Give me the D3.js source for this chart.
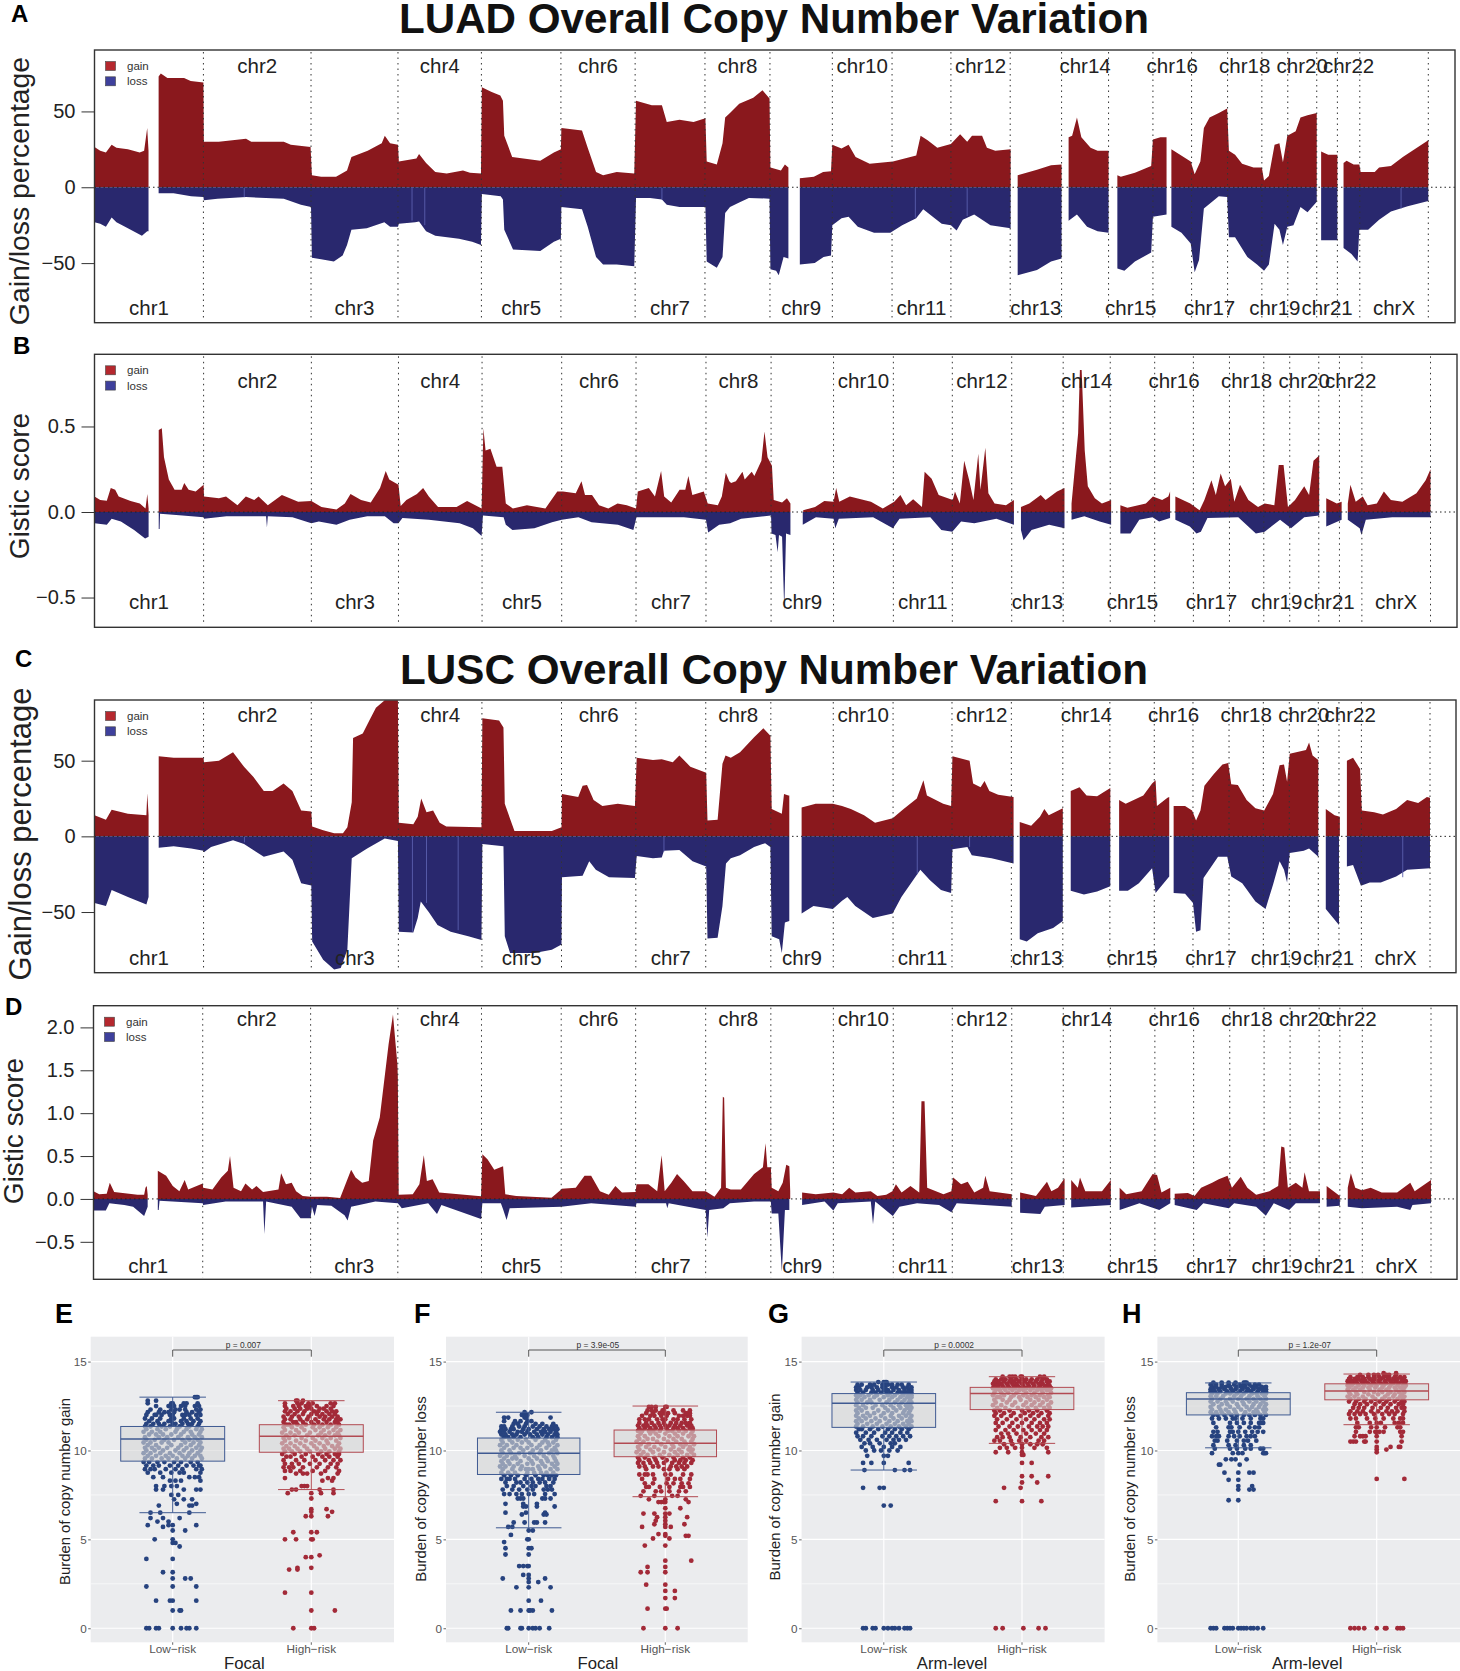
<!DOCTYPE html>
<html>
<head>
<meta charset="utf-8">
<script src="https://cdn.jsdelivr.net/npm/d3@7"></script>
<style>
body { margin: 0; background: #fff; }
text { font-family: "Liberation Sans", Arial, sans-serif; }
</style>
</head>
<body>
<svg id="drawing_region"></svg>
<script>
// chromosome names and where each one ends on the genome axis (Mb)
const chrNames = ['chr1','chr2','chr3','chr4','chr5','chr6','chr7','chr8','chr9','chr10','chr11','chr12','chr13','chr14','chr15','chr16','chr17','chr18','chr19','chr20','chr21','chr22','chrX'];
const chrEnds = [248,493,691,881,1062,1231,1390,1538,1680,1816,1950,2085,2202,2309,2410,2498,2580,2658,2717,2783,2830,2881,3037];

// values: [genome Mb, value], null = no data (centromere gap)
const luadGain = [[0,26.5],[13,24],[26,23],[39,28],[50,26],[76,25],[103,23],[113,24],[120,39],[123,24],null,
[146,73],[151,75],[166,72],[204,72],[219,70],[248,69],[249,30],[283,30],[345,32],[357,30],[431,30],[447,28],[492,26.5],
[495,8],[516,7],[550,7],[575,11],[585,20],[622,24],[654,29],[661,34],[673,29],[691,28],[693,17],[733,19],[739,22],[755,16],[776,10],[802,9],[839,11],[855,9.5],[880,9],
[882,66],[903,63],[924,60.5],[930,57],[933,34],[951,20],[1015,17.5],[1046,23],[1062,25],[1063,39],[1110,37.5],[1123,26],[1142,10],[1158,8],[1189,10],[1229,9],
[1233,57],[1269,54],[1292,54],[1303,43],[1332,44.5],[1364,43],[1391,45.5],[1394,17],[1417,15],[1430,29],[1436,46],[1447,49],[1468,55],[1500,59],[1521,64],[1537,58.5],
[1539,13],[1563,11],[1572,15],[1580,13],null,
[1606,6],[1638,7],[1659,10],[1677,10.5],[1680,28],[1701,25.5],[1717,28],[1733,20],[1765,15.5],[1818,17],[1871,21],[1881,34],[1897,31],[1919,26],[1950,28.5],[1971,35],[1987,30],[1998,34],[2021,34],[2032,26],[2051,24],[2086,25],null,
[2102,8],[2146,11.5],[2178,14.5],[2202,15],null,
[2218,33],[2226,34],[2237,46],[2247,33],[2268,26],[2284,24],[2309,24],null,
[2329,8],[2337,7],[2369,9.5],[2406,14],[2410,31.5],[2427,33],[2441,33],null,
[2452,25],[2496,17],[2505,8.5],[2518,17],[2526,39],[2539,46],[2560,49],[2579,52],[2583,24],[2597,21.5],[2613,15.5],[2639,13],[2658,13],
[2663,4.5],[2674,7.5],[2687,28],[2698,29],[2706,16.5],[2716,34],[2735,37],[2746,46],[2762,47.5],[2783,49],null,
[2793,23.5],[2809,21.5],[2830,21.5],null,
[2844,16],[2851,17.5],[2867,15],[2880,15],[2883,10],[2915,10],[2925,13],[2952,14],[2979,20],[3011,26],[3037,31]];

const luadLoss = [[0,-23],[13,-24],[26,-26],[39,-20],[50,-23],[76,-27],[108,-32],[120,-29],[123,-29],null,
[146,-4],[180,-4],[220,-6],[248,-6.5],[249,-8.5],[280,-7.5],[345,-6.5],[431,-7.5],[470,-11.5],[493,-13],
[495,-46.5],[516,-47.5],[545,-49],[565,-45],[575,-38],[585,-28],[620,-27],[660,-23],[673,-26],[691,-26],[693,-24],[730,-23],[739,-22.5],[755,-29],[776,-32],[830,-34],[860,-36],[880,-38],
[882,-4.5],[925,-6],[930,-8],[933,-28],[953,-41],[1015,-42],[1046,-36],[1062,-34],[1063,-13],[1110,-14.5],[1123,-26],[1142,-46],[1158,-51],[1189,-51],[1229,-52],
[1233,-7],[1265,-7],[1292,-8],[1303,-11.5],[1332,-13],[1391,-13],[1394,-49],[1417,-53],[1430,-46],[1436,-17],[1447,-13],[1468,-10],[1490,-7],[1537,-7.5],
[1539,-54],[1552,-55],[1558,-58],[1569,-46],[1580,-47],null,
[1606,-51],[1640,-50],[1660,-46],[1677,-45],[1680,-25],[1701,-20.5],[1717,-19.5],[1738,-26],[1775,-30],[1812,-30],[1839,-25],[1871,-20.5],[1887,-14.5],[1913,-20.5],[1929,-24],[1950,-25],[1963,-28.5],[1977,-21.5],[2003,-18],[2040,-25],[2086,-27],null,
[2102,-58],[2146,-54.5],[2178,-49],[2202,-47],null,
[2218,-22],[2237,-18],[2260,-26],[2284,-29],[2309,-30],null,
[2329,-53.5],[2345,-55],[2369,-49],[2406,-43],[2410,-19.5],[2441,-18],null,
[2452,-26],[2475,-30],[2496,-37],[2505,-56],[2515,-48],[2526,-14],[2560,-6],[2579,-6.5],[2583,-33],[2597,-33],[2625,-46],[2647,-51],[2663,-55],[2674,-51],[2687,-24],[2698,-28],[2706,-38],[2716,-26],[2730,-25],[2746,-13],[2762,-16.5],[2783,-9.5],null,
[2793,-35],[2830,-35],null,
[2844,-40],[2862,-44],[2876,-49],[2880,-28],[2900,-28],[2925,-21.5],[2952,-16],[2990,-12.5],[3037,-9]];

// thin pale breaks inside the loss areas: [genome Mb, depth]
const luadLossBreaks = [[341,-6.5],[723,-22],[752,-25],[1292,-8],[1869,-20],[1987,-19],[2975,-14]];
const luscLossBreaks = [[341,-4],[723,-63],[755,-44],[827,-62],[1295,-10],[1871,-25],[1990,-7],[2975,-27]];

const luadGisticGain = [[0,.09],[13,.07],[28,.066],[37,.14],[47,.13],[55,.09],[82,.065],[103,.05],[116,.02],[120,.105],[123,.02],null,
[146,.48],[153,.49],[158,.32],[169,.19],[182,.13],[198,.13],[204,.17],[214,.13],[230,.12],[248,.16],[249,.09],[283,.08],[299,.09],[325,.04],[344,.09],[363,.07],[373,.09],[394,.04],[426,.1],[463,.06],[493,.065],
[516,.03],[550,.015],[569,.05],[582,.105],[606,.07],[628,.055],[649,.14],[662,.24],[670,.19],[691,.16],[696,.035],[709,.07],[733,.105],[747,.14],[760,.09],[781,.03],[823,.03],[847,.065],[880,.02],
[884,.49],[889,.36],[900,.37],[914,.265],[927,.265],[935,.05],[951,.02],[983,.04],[1025,.02],[1052,.12],[1065,.12],[1094,.11],[1107,.18],[1115,.1],[1131,.1],[1147,.04],[1168,.02],[1189,.05],[1210,.04],[1231,.02],
[1235,.12],[1260,.14],[1274,.09],[1288,.24],[1295,.09],[1311,.055],[1330,.13],[1343,.13],[1350,.21],[1359,.1],[1385,.12],[1394,.05],[1417,.04],[1426,.09],[1435,.23],[1443,.18],[1447,.17],[1458,.18],[1473,.235],[1478,.19],[1494,.235],[1500,.21],[1516,.3],[1523,.47],[1530,.32],[1540,.27],
[1544,.07],[1563,.055],[1574,.08],[1582,.05],null,
[1611,.01],[1638,.03],[1659,.065],[1680,.06],[1686,.14],[1693,.06],[1717,.09],[1765,.06],[1792,.02],[1818,.06],[1832,.1],[1845,.04],[1861,.075],[1881,.03],[1887,.235],[1903,.195],[1919,.1],[1951,.07],[1956,.12],[1967,.05],[1977,.3],[1988,.19],[1998,.07],[2009,.34],[2014,.13],[2025,.375],[2032,.11],[2046,.05],[2072,.04],[2090,.07],null,
[2106,.03],[2125,.05],[2151,.1],[2162,.07],[2188,.12],[2205,.14],null,
[2221,.05],[2225,.16],[2236,.46],[2240,.83],[2244,.83],[2251,.36],[2258,.15],[2274,.08],[2290,.05],[2311,.07],null,
[2332,.04],[2348,.025],[2390,.05],[2406,.09],[2427,.07],[2441,.09],[2445,.12],null,
[2457,.09],[2491,.05],[2512,.01],[2523,.07],[2539,.185],[2549,.1],[2560,.225],[2570,.15],[2583,.195],[2591,.06],[2604,.16],[2623,.07],[2645,.03],[2660,.05],[2682,.04],[2692,.275],[2703,.275],[2713,.03],[2729,.07],[2750,.15],[2761,.1],[2771,.3],[2784,.33],null,
[2800,.08],[2824,.05],[2835,.06],null,
[2849,.05],[2855,.16],[2867,.06],[2883,.09],[2894,.04],[2915,.05],[2931,.12],[2947,.07],[2973,.06],[3005,.11],[3026,.185],[3037,.25]];

const luadGisticLoss = [[0,-.065],[28,-.075],[39,-.04],[60,-.055],[90,-.105],[115,-.155],[123,-.145],null,
[146,-.1],[148,-.1],[149,-.01],[200,-.02],[248,-.03],[249,-.04],[300,-.025],[390,-.025],[392,-.09],[394,-.025],[450,-.03],[493,-.065],
[510,-.055],[550,-.075],[580,-.045],[620,-.025],[660,-.025],[680,-.065],[691,-.065],[700,-.035],[760,-.045],[830,-.065],[860,-.095],[880,-.14],
[883,-.02],[930,-.03],[935,-.075],[950,-.105],[1000,-.095],[1040,-.06],[1062,-.045],[1100,-.03],[1130,-.06],[1190,-.075],[1225,-.105],[1232,-.03],[1290,-.03],[1340,-.03],[1390,-.045],[1395,-.12],[1420,-.075],[1445,-.065],[1470,-.04],[1538,-.02],
[1539,-.125],[1548,-.135],[1553,-.235],[1556,-.135],[1563,-.145],[1568,-.575],[1572,-.125],[1582,-.135],null,
[1610,-.075],[1640,-.03],[1680,-.04],[1684,-.095],[1692,-.04],[1770,-.03],[1815,-.095],[1830,-.04],[1900,-.03],[1925,-.105],[1950,-.115],[1970,-.055],[2000,-.065],[2050,-.04],[2090,-.075],null,
[2106,-.105],[2112,-.165],[2130,-.105],[2170,-.075],[2205,-.095],null,
[2221,-.045],[2250,-.025],[2285,-.055],[2311,-.075],null,
[2332,-.125],[2355,-.125],[2375,-.045],[2405,-.03],[2420,-.055],[2445,-.035],null,
[2457,-.045],[2490,-.085],[2505,-.125],[2515,-.115],[2530,-.035],[2600,-.03],[2640,-.125],[2660,-.115],[2695,-.045],[2720,-.095],[2750,-.03],[2784,-.02],null,
[2800,-.085],[2835,-.045],null,
[2849,-.045],[2876,-.095],[2880,-.135],[2890,-.045],[2950,-.03],[3037,-.03]];

const luscGain = [[0,14],[26,11],[39,17.5],[76,15],[118,14],[120,28.5],[123,14],null,
[146,53],[180,52],[220,52],[248,52],[249,49],[283,50],[315,55.5],[340,46],[362,39],[385,30],[405,30],[430,35],[450,30],[470,17],[493,16.5],
[495,6.5],[520,4],[545,2],[565,2],[575,6],[585,22.5],[588,65],[610,68],[625,76.5],[640,85],[660,90],[690,90],
[692,9],[725,8],[735,13],[743,25],[755,16],[770,17],[785,9],[800,6.5],[880,6],
[882,78],[920,76.5],[930,72],[933,21.5],[955,3.5],[1040,3.5],[1062,6],[1063,28],[1100,26],[1110,33.5],[1120,34],[1135,24],[1155,20],[1190,21.5],[1229,20],
[1233,52],[1270,50.5],[1290,51],[1315,49],[1330,53.5],[1355,46],[1391,42],[1394,10.5],[1417,11],[1428,48],[1435,53.5],[1447,52],[1468,55.5],[1500,65.5],[1521,71.5],[1537,66.5],
[1540,18],[1563,15],[1568,28],[1578,27],[1580,27],null,
[1608,19],[1640,21.5],[1679,21.5],[1700,20],[1720,18],[1750,14],[1775,9],[1815,12],[1840,18],[1870,25],[1885,37],[1893,27],[1930,21.5],[1948,20],[1951,53],[1990,50],[1998,35],[2015,32.5],[2024,36.5],[2035,30],[2055,27.5],[2090,26],null,
[2104,9.5],[2130,7],[2150,13],[2160,18],[2170,14],[2202,18.5],null,
[2220,30],[2240,32.5],[2256,27],[2280,26.5],[2310,32],null,
[2330,24],[2345,21.5],[2385,27],[2405,35],[2413,37],[2416,20],[2440,25.5],[2444,26],null,
[2454,20],[2480,20],[2496,17],[2505,10.5],[2515,17],[2524,33.5],[2545,41],[2565,47.5],[2578,48.5],[2585,34.5],[2600,34],[2620,24],[2640,18.5],[2660,17],[2680,28],[2695,47],[2705,47.5],[2712,36],[2718,54.5],[2755,57],[2762,62],[2770,53.5],[2783,50.5],null,
[2800,18],[2820,14],[2832,13],null,
[2848,50],[2862,52],[2878,44.5],[2882,17],[2910,16],[2930,14.5],[2960,18],[2985,24],[3010,22],[3030,26],[3037,25.5]];

const luscLoss = [[0,-44],[26,-46],[39,-35.5],[76,-40],[118,-45],[123,-40],null,
[146,-7.5],[180,-6.5],[220,-8],[248,-9.5],[249,-10.5],[265,-7],[315,-2.5],[340,-5],[385,-13.5],[430,-10],[450,-15.5],[470,-31],[493,-32.5],
[495,-69.5],[520,-81.5],[545,-88],[560,-87],[575,-75],[585,-14.5],[620,-8],[660,-1.5],[690,-3],
[692,-63],[725,-63.5],[735,-54],[742,-43],[760,-50],[780,-58.5],[810,-63],[850,-66],[880,-68.5],
[882,-5],[930,-6.5],[933,-66],[945,-77],[1000,-77],[1040,-75],[1062,-71.5],[1063,-27],[1110,-26],[1125,-16.5],[1140,-22],[1170,-27],[1229,-27.5],
[1233,-13],[1270,-14.5],[1290,-14],[1295,-9.5],[1330,-9],[1360,-16.5],[1391,-20],[1394,-67.5],[1417,-67],[1428,-46],[1436,-18],[1447,-14.5],[1468,-12.5],[1500,-7],[1525,-4.5],[1537,-7],
[1540,-66],[1557,-68],[1563,-77],[1570,-57],[1580,-56],null,
[1608,-51],[1635,-46],[1679,-48],[1700,-42.5],[1712,-40],[1730,-46],[1770,-54],[1815,-51],[1835,-40],[1865,-27.5],[1878,-22],[1900,-29],[1925,-35.5],[1948,-37.5],[1951,-8.5],[1985,-7],[1995,-12.5],[2040,-14.5],[2090,-18],null,
[2104,-68],[2120,-69.5],[2145,-64],[2180,-60.5],[2202,-56],null,
[2220,-36],[2250,-38.5],[2280,-36.5],[2310,-33],null,
[2330,-36],[2350,-36],[2375,-31],[2405,-21],[2413,-37.5],[2444,-26.5],null,
[2454,-37.5],[2480,-38],[2498,-44],[2505,-63],[2515,-62],[2522,-27.5],[2555,-13.5],[2576,-13.5],[2585,-26.5],[2610,-31],[2640,-43],[2663,-48],[2680,-32],[2695,-16.5],[2705,-22],[2712,-30.5],[2718,-11],[2750,-9.5],[2762,-8],[2783,-13.5],null,
[2800,-48],[2830,-58.5],null,
[2848,-20],[2862,-19],[2880,-32.7],[2900,-30.5],[2925,-30.5],[2960,-26.5],[2985,-22],[3037,-21]];

const luscGisticGain = [[0,.09],[13,.055],[30,.06],[37,.19],[47,.08],[100,.05],[115,.05],[118,.13],[121,.15],[123,.05],null,
[146,.33],[165,.27],[180,.15],[195,.09],[207,.22],[215,.11],[248,.18],[249,.13],[270,.11],[290,.25],[305,.33],[310,.5],[318,.13],[335,.09],[345,.18],[360,.11],[370,.15],[385,.08],[420,.11],[426,.3],[437,.17],[450,.19],[460,.09],[475,.035],[493,.025],
[530,.025],[560,.01],[585,.34],[595,.25],[610,.19],[625,.21],[635,.68],[650,.95],[670,1.8],[680,2.15],[690,1.57],[691,1.43],
[693,.05],[725,.055],[740,.17],[750,.51],[757,.21],[770,.23],[785,.075],[880,.03],
[883,.52],[895,.46],[910,.34],[930,.38],[935,.055],[960,.035],[1040,.015],[1062,.11],[1063,.12],[1095,.13],[1115,.27],[1130,.27],[1150,.09],[1170,.05],[1185,.15],[1200,.075],[1231,.08],
[1233,.17],[1260,.17],[1280,.09],[1290,.51],[1297,.09],[1312,.19],[1325,.29],[1340,.21],[1360,.09],[1390,.09],[1410,.025],[1425,.13],[1429,1.19],[1432,1.18],[1436,.13],[1447,.11],[1470,.11],[1500,.29],[1520,.37],[1526,.65],[1530,.37],[1538,.37],
[1540,.13],[1555,.09],[1565,.19],[1573,.4],[1580,.38],[1582,.09],null,
[1609,.075],[1640,.055],[1680,.075],[1700,.055],[1716,.13],[1730,.075],[1765,.09],[1780,.035],[1800,.05],[1814,.09],[1822,.17],[1835,.075],[1855,.15],[1875,.075],[1880,1.14],[1887,1.14],[1893,.13],[1930,.055],[1948,.09],[1952,.25],[1970,.17],[1985,.2],[2000,.075],[2020,.13],[2025,.27],[2035,.09],[2085,.055],null,
[2104,.075],[2140,.035],[2165,.2],[2175,.09],[2190,.13],[2205,.24],null,
[2220,.22],[2235,.13],[2240,.25],[2252,.09],[2290,.09],[2310,.22],null,
[2330,.13],[2345,.055],[2380,.09],[2405,.29],[2415,.28],[2425,.075],[2445,.13],null,
[2455,.06],[2485,.07],[2500,.035],[2515,.13],[2540,.19],[2555,.23],[2575,.27],[2585,.13],[2605,.26],[2620,.13],[2640,.05],[2670,.09],[2690,.15],[2697,.61],[2704,.6],[2712,.13],[2730,.19],[2745,.13],[2750,.31],[2760,.09],[2785,.09],null,
[2800,.15],[2830,.035],null,
[2848,.13],[2855,.3],[2865,.13],[2880,.1],[2900,.13],[2925,.075],[2960,.075],[2990,.19],[3000,.09],[3037,.22]];

const luscGisticLoss = [[0,-.135],[28,-.135],[36,-.05],[70,-.07],[90,-.09],[115,-.2],[123,-.09],null,
[146,-.13],[148,-.13],[150,-.02],[248,-.05],[249,-.07],[300,-.03],[385,-.03],[388,-.41],[392,-.03],[450,-.09],[470,-.225],[493,-.225],
[496,-.09],[502,-.2],[508,-.07],[540,-.08],[570,-.19],[577,-.25],[585,-.09],[640,-.03],[691,-.05],[700,-.11],[760,-.05],[780,-.175],[790,-.07],[880,-.235],
[883,-.05],[925,-.05],[930,-.12],[938,-.245],[945,-.11],[1062,-.09],[1130,-.05],[1231,-.09],[1233,-.05],[1300,-.05],[1303,-.11],[1306,-.05],[1390,-.13],[1394,-.45],[1398,-.13],[1430,-.11],[1445,-.05],[1500,-.03],[1538,-.03],
[1540,-.17],[1555,-.17],[1563,-.85],[1570,-.13],[1580,-.13],null,
[1609,-.07],[1660,-.03],[1680,-.135],[1690,-.05],[1765,-.03],[1770,-.295],[1775,-.03],[1815,-.2],[1830,-.09],[1870,-.05],[1920,-.07],[1948,-.155],[1960,-.05],[2085,-.09],null,
[2104,-.16],[2150,-.175],[2160,-.09],[2205,-.07],null,
[2220,-.1],[2310,-.07],null,
[2330,-.13],[2375,-.05],[2420,-.13],[2445,-.05],null,
[2455,-.07],[2505,-.13],[2520,-.05],[2578,-.11],[2590,-.05],[2640,-.09],[2662,-.195],[2680,-.05],[2715,-.13],[2730,-.05],[2785,-.05],null,
[2800,-.09],[2830,-.08],null,
[2848,-.09],[2880,-.11],[2960,-.09],[2990,-.13],[2995,-.07],[3037,-.05]];

const pGainTicks = [-50, 0, 50];
const gisticLuadTicks = [-0.5, 0, 0.5];
const gisticLuscTicks = [-0.5, 0, 0.5, 1, 1.5, 2];
const legendKeys = ['gain', 'loss'];

// box plot statistics: [lower whisker, q1, median, q3, upper whisker]
const boxFocalGain = [[6.5,9.4,10.65,11.35,13],[7.8,9.9,10.8,11.45,12.8]];
const boxFocalLoss = [[5.65,8.65,9.85,10.7,12.15],[7.4,9.65,10.4,11.15,12.5]];
const boxArmGain = [[8.9,11.3,12.65,13.2,13.85],[10.4,12.3,13.2,13.55,14.15]];
const boxArmLoss = [[10.15,12,12.9,13.25,13.8],[11.45,12.85,13.35,13.75,14.3]];
const riskGroups = ['Low\u2212risk', 'High\u2212risk'];
const burdenTicks = [0, 5, 10, 15];

// samples as [burden, [horizontal jitter in hundredths of a category step]]
const lowFocalGain = [[0,[-19,-17,-12,-10,0,6,10,12,17]],[1,[0,5,6]],[1.55,[-12,-2,0,17]],[2.35,[-19,0,17]],[2.8,[0,9,13]],[3.15,[-7,0]],[3.9,[-19,0]],[4.6,[5]],[4.8,[0,2]],[5,[-13,0]],[5.5,[0,9]],[5.7,[-7]],[5.8,[-18,-3,0,17]],[6,[-11,-3]],[6.2,[-16,-7,5]],[6.5,[-16,-9,12]],[6.9,[-10,12,14]],[7,[3,17]],[7.25,[1,8,14]],[7.5,[-1,4]],[7.8,[-12,-7,8,17,20]],[8,[-12,-6,-1,3]],[8.3,[-2,2,6,20]],[8.5,[-14,-7,12,16,19]],[8.75,[-18,-9,-1,5,8,20]],[8.95,[-20,-16,-13,-5,2,7,17,21]],
[9.15,[-19,-14,-10,-2,4,10,15,19,20]],[9.35,[-21,-17,-11,-6,1,6,13,18]],[9.55,[-20,-15,-8,-3,3,9,14,21]],[9.7,[-18,-12,-5,0,7,11,16,20]],[9.85,[-21,-16,-9,-2,5,12,18]],[10,[-19,-13,-7,2,8,14,20]],[10.15,[-20,-15,-10,-4,4,10,17,21]],[10.3,[-18,-12,-1,6,13,19]],[10.45,[-21,-16,-8,-3,9,15,20]],[10.6,[-19,-13,-6,1,7,12,18]],[10.75,[-20,-10,-4,4,11,16,21]],[10.9,[-17,-12,-7,-1,6,14,19]],[11.05,[-21,-15,-9,2,8,13,20]],[11.2,[-19,-11,-5,3,10,17,21]],[11.35,[-20,-16,-8,-2,5,12,18]],[11.5,[-19,-14,-10,-6,0,2,7,11,14,19]],[11.65,[-17,-11,-3,-1,6,10,15,20]],[11.8,[-20,-15,-9,-1,1,8,13,18]],[12,[-19,-13,-12,-8,-2,0,7,9,12,17,20]],[12.15,[-18,-10,-6,-3,1,10,14,19]],[12.3,[-16,-9,-1,2,5,9,17,20]],[12.5,[-12,-3,-1,1,6,9,16,19]],[12.65,[-18,-1,0,8,10,18]],[12.8,[-18,-12]],[13,[16,17,18]]];

const highFocalGain = [[0,[-13,0,2]],[1,[0,17]],[2,[-19,0]],[3.3,[-16,-10]],[3.4,[-10,0]],[4,[-4,0]],[4.1,[6]],[5,[-19,-11,0,1]],[5.4,[-13,0,4]],[6.3,[-4,0,12]],[6.55,[0,15]],[6.7,[0,11]],[7.3,[0]],[7.6,[-17,0,7,16]],[7.8,[-14,-11,6,16]],[8,[-7,-5,-3]],[8.3,[8,15]],[8.45,[-19,16,12]],[8.7,[-11,-6,-3,7,19]],[8.85,[-19,-15,-8,1,10,20]],[9.05,[-20,-16,-13,-6,4,12,18]],[9.25,[-19,-14,-9,-1,6,14,19]],[9.45,[-20,-11,-5,3,10,16,21]],[9.65,[-18,-15,-7,1,8,13,19]],[9.8,[-21,-12,-4,5,11,17,20]],
[9.95,[-19,-14,-8,-1,7,13,20]],[10.1,[-20,-16,-10,-3,4,10,17,21]],[10.25,[-18,-12,-5,2,9,15,19]],[10.4,[-21,-15,-8,0,6,12,20]],[10.55,[-19,-11,-4,3,11,18]],[10.7,[-20,-16,-7,1,8,14,21]],[10.85,[-18,-12,-3,5,10,17,20]],[11,[-21,-15,-9,-1,7,13,19]],[11.15,[-19,-11,-5,3,9,16,21]],[11.3,[-20,-14,-7,1,6,12,18]],[11.45,[-18,-16,-10,-4,2,8,14,20]],[11.6,[-20,-13,-11,-6,0,5,11,17,19]],[11.75,[-19,-15,-8,-3,3,9,13,18,21]],[11.9,[-20,-14,-9,-2,6,10,15,19]],[12.05,[-17,-12,-6,0,4,8,13,17]],[12.2,[-19,-15,-10,-5,2,5,11,15,18]],[12.35,[-18,-12,-8,-3,0,6,9,14]],[12.5,[-19,-13,-9,-4,-1,4,11,16]],[12.65,[-19,-10,-7,-2,1,14,17]],[12.8,[-11,-10,-6]]];

const lowFocalLoss = [[0,[-16,-15,-6,-5,0,3,5,8,15]],[1,[-13,-6,0,1,3,17]],[1.55,[0,9]],[2.3,[-9,0,16]],[2.6,[0,7]],[2.8,[-19,0,12]],[3,[-4,0]],[3.5,[-7,-4,-1,0]],[4.15,[-17,0]],[4.5,[-17,0,2]],[4.85,[-18]],[5,[-1,0]],[5.25,[-13]],[5.5,[0,3]],[5.7,[-15,-12]],[5.95,[-11,-3,4,6,12]],[6.4,[-5,11,13]],[6.5,[-17,-2,12]],[6.85,[-4,-2,6,19]],[7,[-17,-4,6]],[7.3,[-8,-6,-4,10,12,16]],[7.55,[-18,-14,-9,-5,0,4,12,19]],[7.8,[-19,-12,-7,-1,3,11,14,17]],[8,[-16,-11,-4,2,5,13,16]],[8.2,[-17,-9,-6,-1,3,8,12,18]],[8.4,[-20,-16,-14,-10,-3,2,7,10,15,19]],[8.6,[-18,-13,-8,-2,5,11,14,17,20]],
[8.75,[-20,-15,-10,-1,4,9,13,18]],[8.95,[-19,-12,-6,-2,0,3,8,16,21]],[9.1,[-21,-17,-11,-5,7,12,19]],[9.25,[-19,-14,-8,-1,3,10,17,21]],[9.4,[-20,-15,-6,2,9,14,20]],[9.55,[-18,-12,-9,0,6,13,19]],[9.7,[-21,-16,-10,-3,4,11,18]],[9.85,[-19,-13,-7,1,8,15,21]],[10,[-20,-14,-4,3,9,17,20]],[10.15,[-18,-11,-6,-1,6,13,19]],[10.3,[-21,-16,-9,2,8,15,21]],[10.45,[-19,-12,-5,0,10,14,18]],[10.6,[-20,-14,-8,-2,5,12,20]],[10.75,[-18,-15,-11,-6,3,7,13,17,21]],[10.9,[-20,-17,-12,-9,-3,1,6,10,14,19,21]],[11.05,[-21,-18,-14,-8,-5,-1,4,9,12,16,20]],[11.2,[-20,-17,-13,-11,-4,0,6,11,15,18,21]],[11.35,[-20,-18,-12,-7,-3,3,8,13,17,20]],[11.5,[-11,-8,-2,5,10,18]],[11.65,[-18,-10,-6,-1,2]],[11.85,[-18,-15,-3,-2,16]],[12,[-5,-3,-1]],[12.15,[-3,2]]];

const highFocalLoss = [[0,[-16,0,9]],[1.1,[-13,0,1]],[1.7,[0,7]],[2.1,[0,7]],[2.45,[-14,0]],[3.15,[-18,-13,0]],[3.45,[-13,0]],[3.8,[0,19]],[4.65,[-15,0]],[5.05,[-9,3]],[5.2,[0,15,17]],[5.3,[-5,0]],[5.7,[-17,0,4]],[5.85,[-8,0,14]],[6.05,[-7,0]],[6.25,[-6,0,16]],[6.45,[-16,-8,0,3]],[6.75,[0,11]],[7.1,[-5,-3,-1,0,17]],[7.25,[-12,0,15]],[7.45,[-18,-8,5,9]],[7.7,[-16,-7,-3,3,10,15]],[7.95,[-14,-12,-4,3,11,13,18]],[8.15,[-15,-9,1,6,12,17]],[8.4,[-17,-8,2,7,11,18]],[8.65,[-19,-15,-13,-9,0,4,13,19]],[8.95,[-14,-1,3,9,14]],
[9.1,[-19,-15,-9,-5,4,8,12,16]],[9.3,[-20,-16,-11,-6,-1,5,10,14,19]],[9.45,[-19,-12,-7,1,7,11,15,20]],[9.6,[-20,-15,-8,-2,6,13,18]],[9.75,[-18,-13,-4,3,9,16,21]],[9.9,[-21,-16,-9,-1,7,12,19]],[10.05,[-19,-11,-5,4,10,17,20]],[10.2,[-20,-14,-8,0,6,13,18]],[10.35,[-18,-12,-3,5,11,15,21]],[10.5,[-21,-16,-6,2,8,14,19]],[10.65,[-19,-13,-9,-1,6,12,20]],[10.8,[-20,-15,-5,3,9,17,21]],[10.95,[-18,-11,-7,0,7,13,19]],[11.1,[-20,-17,-12,-9,-4,2,5,10,15,20]],[11.25,[-19,-15,-11,-7,-3,1,6,9,13,18,20]],[11.4,[-20,-16,-13,-8,-4,0,3,7,11,16,19]],[11.55,[-19,-14,-10,-5,-1,4,8,12,15,18]],[11.75,[-19,-15,-12,-6,-2,0,6,9,14,19]],[11.95,[-17,-11,-8,-3,1,10,13,16,18]],[12.1,[-14,-9,-4,-1,2,7,15,17,18]],[12.25,[-13,-10,-7,-2,-1,6,13,18]],[12.45,[-12,-10,-7,1,0]]];

const lowArmGain = [[0,[-15,-13,-8,-6,0,3,6,8,11,15,17,19]],[6.9,[0,5]],[7.9,[-15,-3,0]],[8.9,[-14,8,15,19]],[9.3,[-15,-9,0,18]],[9.7,[-12,0,3]],[10,[-13,-7,-2,4,10]],[10.2,[-16,-8,0,6,12]],[10.4,[-14,-10,-3,5,8]],[10.6,[-17,-11,-5,2,7,11,16]],[10.8,[-19,-15,-9,-1,4,9,14,19]],[11,[-20,-13,-7,1,6,12,17]],[11.2,[-18,-16,-10,-4,3,8,13,18]],
[11.35,[-20,-15,-8,-1,5,11,16,20]],[11.5,[-19,-12,-5,2,8,14,18]],[11.65,[-20,-16,-9,-3,4,10,17,20]],[11.8,[-18,-13,-6,1,7,13,19]],[11.95,[-20,-15,-10,-2,5,11,16,20]],[12.1,[-19,-12,-7,0,6,14,18]],[12.25,[-20,-16,-4,3,9,15,19]],[12.4,[-18,-13,-8,1,7,12,17,20]],[12.55,[-20,-15,-6,-1,5,11,16,19]],[12.7,[-19,-12,-9,2,8,13,18,20]],[12.85,[-20,-16,-10,-3,4,10,15,19]],[13,[-19,-14,-7,0,6,12,17,20]],[13.1,[-20,-17,-11,-5,3,8,14,18,20]],[13.25,[-19,-15,-9,-6,-2,2,5,10,13,16,19,20]],[13.4,[-20,-17,-13,-8,-4,0,3,7,11,15,18,20]],[13.55,[-20,-18,-12,-9,-5,-1,1,6,9,14,17,20]],[13.7,[-19,-16,-10,-7,-1,1,3,6,10,13,18]],[13.85,[-4,0,1,2]]];

const highArmGain = [[0,[-19,-14,1,12,17]],[7.15,[-19,0,14]],[7.9,[-13,-1]],[8.2,[0,11]],[8.55,[0,7,19]],[9.3,[0,7]],[9.75,[0,1]],[9.9,[-19,-10,0,19]],[10.15,[-16,-11,-5,0,9,18]],[10.35,[-13,-7,0,6,11,15]],[10.55,[-20,-16,-8,-2,3,12,16]],[10.75,[-18,-14,-9,-1,6,14,19]],[10.95,[-15,-10,-4,3,10,16]],[11.15,[-19,-12,-6,1,7,13,18]],[11.35,[-17,-9,-3,5,11,15,19]],[11.55,[-19,-14,-7,0,7,13,18]],[11.75,[-18,-11,-4,3,9,16,20]],[11.95,[-20,-15,-8,-1,6,12,19]],
[12.1,[-19,-13,-6,2,8,14,20]],[12.25,[-20,-16,-9,0,5,11,18]],[12.4,[-18,-12,-3,4,10,16,20]],[12.55,[-21,-15,-7,1,7,13,19]],[12.7,[-19,-11,-5,3,9,15,21]],[12.85,[-20,-14,-9,-1,6,12,18]],[13,[-18,-16,-8,-2,4,10,16,20]],[13.1,[-21,-13,-6,1,7,13,19]],[13.25,[-20,-15,-10,-4,3,9,15,21]],[13.4,[-19,-16,-12,-7,-2,1,6,11,14,18,20]],[13.5,[-21,-18,-13,-9,-5,-1,3,8,12,16,19,21]],[13.62,[-20,-17,-14,-10,-6,-3,1,5,9,13,17,20]],[13.75,[-21,-18,-15,-11,-7,-4,0,4,8,12,15,19]],[13.88,[-20,-17,-13,-9,-6,-2,2,6,10,14,18,20]],[14,[-19,-15,-12,-8,-4,0,3,7,11,15,18]],[14.15,[-14,-9,-7,-5,-1,0,13,16]]];

const lowArmLoss = [[0,[-20,-18,-16,-10,-8,-6,-4,0,2,4,6,9,11,14,18]],[7.2,[-7,0]],[7.8,[0,8,11]],[8,[0,10]],[8.35,[-7,0]],[8.75,[-10,0,8,11]],[9.2,[-14,1,-13]],[9.5,[-9,-5,-2,6]],[9.85,[-19,-4,0,3,18,20,19]],[10.1,[-17,-6,-1,5,9,16,18]],[10.3,[-18,-7,-2,4,9]],[10.55,[-17,-15,-8,-1,4,7,13]],[10.8,[-19,-16,-14,-7,-3,1,6,9,12]],[11.05,[-18,-15,-6,-4,0,5,10,14,18]],[11.3,[-16,-7,-5,1,8,12,15]],[11.55,[-18,-6,-1,4,9,15,17,18]],[11.8,[-19,-14,-9,-4,-2,3,9,16,18]],
[12,[-18,-15,-10,-5,-1,4,8,12,16,20]],[12.15,[-20,-16,-12,-7,-2,5,11,14,19]],[12.3,[-19,-13,-9,-3,2,8,13,18,20]],[12.45,[-20,-14,-6,0,6,10,15,19]],[12.6,[-18,-12,-8,-1,4,11,16,20]],[12.75,[-20,-15,-9,-4,3,8,13,18]],[12.9,[-19,-13,-6,0,6,11,16,20]],[13.05,[-20,-16,-11,-3,2,8,14,19]],[13.2,[-19,-15,-9,-6,-1,4,10,13,17,20]],[13.32,[-20,-17,-13,-8,-4,1,6,9,14,18,20]],[13.45,[-20,-18,-14,-10,-5,-2,3,7,11,15,18,20]],[13.58,[-19,-16,-12,-9,-6,-1,2,5,10,13,17,20]],[13.7,[-20,-16,-12,-7,-3,1,4,8,12,15]],[13.82,[-18,-12,-7,-2,4,5,6]]];

const highArmLoss = [[0,[-19,-16,-13,-9,0,6,7,15,17,19]],[8.4,[0,20]],[9.9,[0]],[10.05,[0,7]],[10.2,[0,10,16,17]],[10.5,[-19,-17,-15,-9,-8,0,18]],[10.8,[-16,-12,-10,-8,0,18]],[11.05,[-15,-5,-1,0,2,5,17,19]],[11.3,[-15,-13,-4,0,6,15,17]],[11.55,[-14,-5,0,3,13,16,19]],[11.8,[-19,-15,-7,-1,5,12,17,19]],[12.05,[-20,-16,-12,-8,-2,4,9,13,19]],[12.2,[-19,-14,-10,-4,1,7,11,15,20]],[12.4,[-17,-13,-9,-3,3,8,14,18,20]],[12.6,[-16,-12,-7,-1,5,10,16,19]],
[12.75,[-20,-15,-9,-4,2,7,13,18,20]],[12.9,[-19,-13,-8,-1,4,9,15,19]],[13.03,[-21,-16,-10,-3,6,12,17,20]],[13.16,[-19,-14,-6,1,8,13,18]],[13.29,[-20,-15,-9,-2,4,10,16,20]],[13.42,[-21,-17,-12,-5,2,7,14,19]],[13.54,[-20,-15,-10,-6,-1,4,9,13,17,20]],[13.66,[-21,-18,-13,-9,-4,0,5,10,15,19,21]],[13.78,[-20,-17,-14,-10,-6,-2,3,7,12,16,20]],[13.9,[-21,-18,-15,-11,-8,-3,1,6,10,14,18,21]],[14.02,[-20,-16,-13,-9,-5,-1,3,8,12,15,19]],[14.12,[-19,-14,-10,-6,-2,2,5,9,13,17,20]],[14.25,[-12,-6,-2,1,7,9,14]],[14.35,[5,14]]];

const svg = d3.select('#drawing_region').attr('width', 1460).attr('height', 1671);

// one genome panel: mirrored gain/loss areas, chromosome guides, legend
function genomePanel(p) {
    const x = d3.scaleLinear().domain([0, chrEnds[chrEnds.length - 1]]).range([p.left, p.xEnd]);
    const y = d3.scaleLinear().domain(p.yDomain).range([p.bottom, p.top]);
    const g = svg.append('g');

    const clipId = 'clip' + p.top;
    svg.append('clipPath').attr('id', clipId).append('rect')
        .attr('x', p.left).attr('y', p.top).attr('width', p.right - p.left).attr('height', p.bottom - p.top);

    const area = d3.area().defined(d => d !== null).x(d => x(d[0])).y0(y(0)).y1(d => y(d[1]));
    g.append('path').datum(p.gain).attr('d', area).attr('fill', '#8a181d').attr('clip-path', `url(#${clipId})`);
    g.append('path').datum(p.loss).attr('d', area).attr('fill', '#29286e').attr('clip-path', `url(#${clipId})`);

    g.selectAll('line.break').data(p.breaks || []).join('line')
        .attr('class', 'break')
        .attr('x1', d => x(d[0])).attr('x2', d => x(d[0]))
        .attr('y1', y(0)).attr('y2', d => y(d[1]))
        .attr('stroke', '#5a5fae').attr('stroke-width', 0.9);

    g.selectAll('line.chr').data(chrEnds).join('line')
        .attr('class', 'chr')
        .attr('x1', d => x(d)).attr('x2', d => x(d))
        .attr('y1', p.top + 2).attr('y2', p.bottom - 2)
        .attr('stroke', '#333').attr('stroke-width', 1).attr('stroke-dasharray', '1.5 4');
    g.append('line')
        .attr('x1', p.left).attr('x2', p.right).attr('y1', y(0)).attr('y2', y(0))
        .attr('stroke', '#222').attr('stroke-width', 1).attr('stroke-dasharray', '1.5 3');

    g.append('rect')
        .attr('x', p.left).attr('y', p.top).attr('width', p.right - p.left).attr('height', p.bottom - p.top)
        .attr('fill', 'none').attr('stroke', '#333').attr('stroke-width', 1.4);

    const axis = d3.axisLeft(y).tickValues(p.ticks).tickSize(13).tickPadding(6).tickFormat(d3.format(p.tickFormat));
    const axisGroup = g.append('g').attr('transform', `translate(${p.left},0)`).call(axis);
    axisGroup.select('.domain').remove();
    axisGroup.selectAll('line').attr('stroke', '#333');
    axisGroup.selectAll('text').attr('font-size', 20).attr('fill', '#222').style('font-family', '"Liberation Sans"');

    g.selectAll('text.chrlab').data(chrNames).join('text')
        .attr('class', 'chrlab')
        .attr('x', (d, i) => x(((i ? chrEnds[i - 1] : 0) + chrEnds[i]) / 2))
        .attr('y', (d, i) => i % 2 ? p.top + p.labelTop : p.bottom - p.labelBottom)
        .attr('text-anchor', 'middle').attr('font-size', 20.5).attr('fill', '#222')
        .text(d => d);

    legendKeys.forEach((k, i) => {
        const ly = p.top + 16 + i * 15.3;
        g.append('rect').attr('x', p.left + 11).attr('y', ly - 4.5).attr('width', 10).attr('height', 9)
            .attr('fill', i ? '#3e409c' : '#b5282e').attr('stroke', '#444').attr('stroke-width', 0.6);
        g.append('text').attr('x', p.left + 32.5).attr('y', ly + 4).attr('font-size', 11.5).attr('fill', '#333').text(k);
    });

    g.append('text')
        .attr('transform', `translate(${p.titleX},${(p.titleY)}) rotate(-90)`)
        .attr('text-anchor', 'middle').attr('font-size', p.titleSize).attr('fill', '#222')
        .text(p.yTitle);
}

// one jittered box plot panel
function boxPanel(p) {
    const x = d3.scaleLinear().domain([1, 2]).range(p.cats);
    const y = d3.scaleLinear().domain([-0.79, 16.4]).range([1642.3, 1336.7]);
    const g = svg.append('g');

    g.append('rect').attr('x', p.left).attr('y', y(16.4)).attr('width', p.width).attr('height', y(-0.79) - y(16.4)).attr('fill', '#ebecee');
    g.selectAll('line.minor').data([2.5, 7.5, 12.5]).join('line').attr('class', 'minor')
        .attr('x1', p.left).attr('x2', p.left + p.width).attr('y1', d => y(d)).attr('y2', d => y(d))
        .attr('stroke', '#fff').attr('stroke-width', 0.6);
    g.selectAll('line.major').data(burdenTicks).join('line').attr('class', 'major')
        .attr('x1', p.left).attr('x2', p.left + p.width).attr('y1', d => y(d)).attr('y2', d => y(d))
        .attr('stroke', '#fff').attr('stroke-width', 1.2);
    g.selectAll('line.vert').data([1, 2]).join('line').attr('class', 'vert')
        .attr('x1', d => x(d)).attr('x2', d => x(d)).attr('y1', y(16.4)).attr('y2', y(-0.79))
        .attr('stroke', '#fff').attr('stroke-width', 1.2);

    const colours = ['#27437f', '#a32a38'];
    const boxEdges = ['#3f5a92', '#b24a52'];
    [p.low, p.high].forEach((rows, i) => {
        const cat = i + 1;
        const samples = rows.flatMap(r => r[1].map(j => [cat + j / 100, r[0]]));
        g.append('g').selectAll('circle').data(samples).join('circle')
            .attr('cx', d => x(d[0])).attr('cy', d => y(d[1])).attr('r', 2.4).attr('fill', colours[i]);

        const [lo, q1, med, q3, hi] = p.box[i];
        const edge = boxEdges[i];
        const seg = (x1, x2, y1, y2, w) => g.append('line')
            .attr('x1', x(x1)).attr('x2', x(x2)).attr('y1', y(y1)).attr('y2', y(y2))
            .attr('stroke', edge).attr('stroke-width', w);
        seg(cat, cat, lo, q1, 1);
        seg(cat, cat, q3, hi, 1);
        seg(cat - 0.24, cat + 0.24, lo, lo, 1);
        seg(cat - 0.24, cat + 0.24, hi, hi, 1);
        g.append('rect')
            .attr('x', x(cat - 0.375)).attr('width', x(cat + 0.375) - x(cat - 0.375))
            .attr('y', y(q3)).attr('height', y(q1) - y(q3))
            .attr('fill', '#d6d6d6').attr('fill-opacity', 0.62).attr('stroke', edge).attr('stroke-width', 1);
        seg(cat - 0.375, cat + 0.375, med, med, 1.5);
    });

    const axis = d3.axisLeft(y).tickValues(burdenTicks).tickSize(2.5).tickPadding(1.5);
    const axisGroup = g.append('g').attr('transform', `translate(${p.left},0)`).call(axis);
    axisGroup.select('.domain').remove();
    axisGroup.selectAll('line').attr('stroke', '#666');
    axisGroup.selectAll('text').attr('font-size', 11.7).attr('fill', '#555').style('font-family', '"Liberation Sans"');

    g.selectAll('text.cat').data(riskGroups).join('text').attr('class', 'cat')
        .attr('x', (d, i) => x(i + 1)).attr('y', 1653)
        .attr('text-anchor', 'middle').attr('font-size', 11.8).attr('fill', '#555')
        .text(d => d);
    g.selectAll('line.xt').data([1, 2]).join('line').attr('class', 'xt')
        .attr('x1', d => x(d)).attr('x2', d => x(d)).attr('y1', y(-0.79)).attr('y2', y(-0.79) + 2.5).attr('stroke', '#666');

    g.append('text').attr('x', p.left + p.width / 2 + p.xTitleShift).attr('y', 1669)
        .attr('text-anchor', 'middle').attr('font-size', 16.7).attr('fill', '#222').text(p.xTitle);
    g.append('text').attr('transform', `translate(${p.left - p.yTitleGap},${p.yTitleMid}) rotate(-90)`)
        .attr('text-anchor', 'middle').attr('font-size', 14.9).attr('fill', '#222').text(p.yTitle);

    g.append('path')
        .attr('d', `M${x(1)},1356.7V1350H${x(2)}V1356.7`)
        .attr('fill', 'none').attr('stroke', '#555').attr('stroke-width', 1);
    g.append('text').attr('x', p.left + p.width / 2 + 1).attr('y', 1347.7)
        .attr('text-anchor', 'middle').attr('font-size', 8.4).attr('fill', '#333').text(p.pValue);

    svg.append('text').attr('x', p.letterX).attr('y', 1323).attr('font-size', 27).attr('font-weight', 'bold').text(p.letter);
}

genomePanel({ top: 50, bottom: 322.7, left: 94.5, right: 1455, xEnd: 1428.3, yDomain: [-89.3, 90.5], ticks: pGainTicks, tickFormat: 'd', gain: luadGain, loss: luadLoss, breaks: luadLossBreaks, labelTop: 23, labelBottom: 8, yTitle: 'Gain/loss percentage', titleSize: 28.4, titleX: 29, titleY: 191 });
genomePanel({ top: 354.3, bottom: 627.3, left: 94.5, right: 1457, xEnd: 1430.5, yDomain: [-0.674, 0.922], ticks: gisticLuadTicks, tickFormat: '.1f', gain: luadGisticGain, loss: luadGisticLoss, labelTop: 33.5, labelBottom: 18, yTitle: 'Gistic score', titleSize: 28, titleX: 29, titleY: 486 });
genomePanel({ top: 700, bottom: 972.7, left: 94.5, right: 1456, xEnd: 1430, yDomain: [-90.1, 90.1], ticks: pGainTicks, tickFormat: 'd', gain: luscGain, loss: luscLoss, breaks: luscLossBreaks, labelTop: 22, labelBottom: 8, yTitle: 'Gain/loss percentage', titleSize: 31, titleX: 31, titleY: 834 });
genomePanel({ top: 1005.7, bottom: 1279.3, left: 93.5, right: 1457, xEnd: 1431, yDomain: [-0.937, 2.253], ticks: gisticLuscTicks, tickFormat: '.1f', gain: luscGisticGain, loss: luscGisticLoss, labelTop: 20, labelBottom: 6, yTitle: 'Gistic score', titleSize: 28, titleX: 23, titleY: 1131 });

const plotTitles = [['LUAD Overall Copy Number Variation', 33], ['LUSC Overall Copy Number Variation', 684]];
plotTitles.forEach(t => svg.append('text').attr('x', 774).attr('y', t[1]).attr('text-anchor', 'middle')
    .attr('font-size', 42.2).attr('font-weight', 'bold').attr('fill', '#111').text(t[0]));

const panelLetters = [['A', 11, 22], ['B', 13, 354], ['C', 15, 667], ['D', 5, 1015]];
panelLetters.forEach(l => svg.append('text').attr('x', l[1]).attr('y', l[2]).attr('font-size', 24).attr('font-weight', 'bold').text(l[0]));

boxPanel({ left: 90.7, width: 303.3, cats: [172.7, 311.3], box: boxFocalGain, low: lowFocalGain, high: highFocalGain, xTitle: 'Focal', xTitleShift: 2, yTitle: 'Burden of copy number gain', yTitleGap: 21, yTitleMid: 1491.5, pValue: 'p = 0.007', letter: 'E', letterX: 55 });
boxPanel({ left: 446, width: 301.7, cats: [528.7, 665.3], box: boxFocalLoss, low: lowFocalLoss, high: highFocalLoss, xTitle: 'Focal', xTitleShift: 1, yTitle: 'Burden of copy number loss', yTitleGap: 20, yTitleMid: 1489, pValue: 'p = 3.9e-05', letter: 'F', letterX: 414 });
boxPanel({ left: 801.6, width: 303, cats: [883.8, 1022], box: boxArmGain, low: lowArmGain, high: highArmGain, xTitle: 'Arm-level', xTitleShift: -1, yTitle: 'Burden of copy number gain', yTitleGap: 22, yTitleMid: 1487, pValue: 'p = 0.0002', letter: 'G', letterX: 768 });
boxPanel({ left: 1157.4, width: 302.6, cats: [1238.3, 1376.7], box: boxArmLoss, low: lowArmLoss, high: highArmLoss, xTitle: 'Arm-level', xTitleShift: -1.5, yTitle: 'Burden of copy number loss', yTitleGap: 22, yTitleMid: 1489, pValue: 'p = 1.2e-07', letter: 'H', letterX: 1122 });
</script>
</body>
</html>
